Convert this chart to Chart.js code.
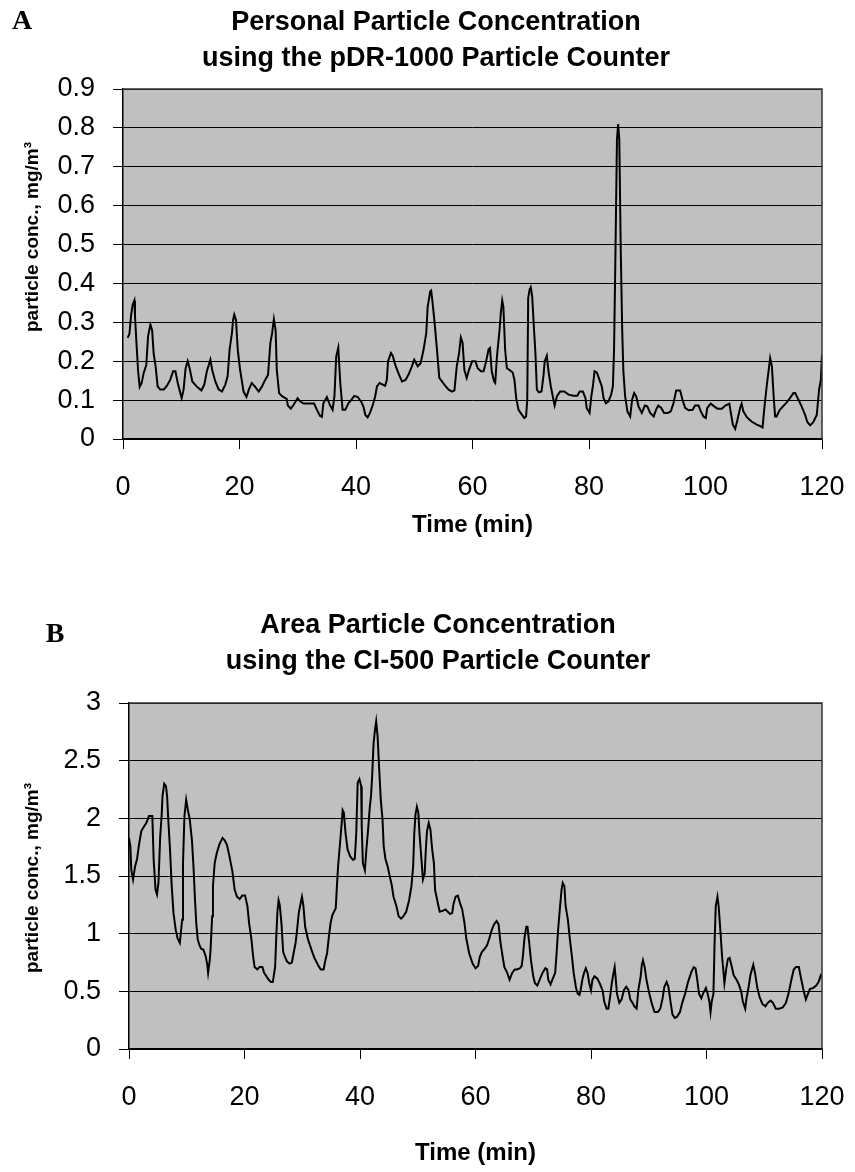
<!DOCTYPE html>
<html>
<head>
<meta charset="utf-8">
<script src="https://cdn.jsdelivr.net/npm/chart.js@4.4.1/dist/chart.umd.min.js"></script>
<style>
  body { margin: 0; background: #fff; }
  canvas { position: absolute; left: 0; }
  #chartA { top: 0; }
  #chartB { top: 590px; }
</style>
</head>
<body>
<canvas id="chartA" width="855" height="590"></canvas>
<canvas id="chartB" width="855" height="582"></canvas>
<script>
// Axes
const xTicks = [0, 20, 40, 60, 80, 100, 120];
const yTicksA = [0, 0.1, 0.2, 0.3, 0.4, 0.5, 0.6, 0.7, 0.8, 0.9];
const yTicksB = [0, 0.5, 1, 1.5, 2, 2.5, 3];

// A : pDR-1000 (temps en min, concentration en mg/m3)
const timeA = [0.8, 1.1, 1.4, 1.66, 1.95, 2.06, 2.3, 2.6, 2.86, 3.2, 3.55, 4.0, 4.3, 4.7, 5.0, 5.26, 5.6, 5.95, 6.4, 7.0,
  7.55, 8.1, 8.6, 9.0, 9.4, 9.84, 10.07, 10.4, 10.75, 11.1, 11.44, 11.9, 12.7, 13.45, 13.96, 14.4, 15.0, 15.33, 15.85, 16.4,
  17.0, 17.56, 17.96, 18.3, 18.7, 18.9, 19.1, 19.4, 19.7, 20.1, 20.7, 21.2, 21.6, 22.1, 22.7, 23.3, 23.86, 24.4, 24.9, 25.3,
  25.6, 25.9, 26.2, 26.4, 26.8, 27.3, 27.86, 28.1, 28.3, 28.8, 29.3, 29.98, 30.4, 31.0, 31.9, 32.8, 33.3, 33.8, 34.15, 34.4,
  35.0, 35.5, 35.98, 36.3, 36.6, 36.96, 37.3, 37.7, 38.16, 38.7, 39.1, 39.7, 40.3, 40.96, 41.3, 41.6, 42.0, 42.4, 42.9, 43.3,
  43.6, 44.05, 44.6, 45.0, 45.3, 45.5, 46.0, 46.3, 46.8, 47.4, 47.9, 48.5, 49.0, 49.6, 50.0, 50.6, 51.1, 51.6, 52.06, 52.3,
  52.75, 52.9, 53.15, 53.5, 53.9, 54.3, 54.75, 55.3, 55.9, 56.5, 56.9, 57.3, 57.7, 58.0, 58.3, 58.6, 59.0, 59.4, 59.95, 60.5,
  60.9, 61.45, 61.9, 62.35, 62.75, 63.0, 63.3, 63.7, 63.9, 64.2, 64.64, 64.86, 65.1, 65.3, 65.6, 65.9, 66.3, 66.9, 67.2, 67.5,
  67.9, 68.5, 68.9, 69.2, 69.4, 69.56, 69.8, 70.0, 70.25, 70.6, 70.8, 71.05, 71.4, 71.85, 72.2, 72.4, 72.76, 73.05, 73.45, 73.9,
  74.1, 74.5, 75.05, 75.75, 76.5, 77.3, 78.0, 78.4, 78.95, 79.4, 79.6, 80.1, 80.4, 80.66, 80.95, 81.35, 81.8, 82.2, 82.5, 82.9,
  83.35, 83.8, 84.1, 84.3, 84.55, 84.8, 85.0, 85.2, 85.45, 85.7, 85.9, 86.2, 86.6, 87.07, 87.4, 87.75, 88.1, 88.5, 89.06, 89.6,
  90.0, 90.5, 91.1, 91.5, 91.9, 92.4, 92.9, 93.5, 94.05, 94.5, 94.97, 95.65, 96.05, 96.5, 97.1, 97.8, 98.2, 98.8, 99.2, 99.65,
  100.05, 100.3, 100.9, 101.5, 102.05, 102.8, 103.4, 104.1, 104.35, 104.7, 105.1, 105.5, 105.95, 106.2, 106.5, 107.1, 107.9, 108.8, 109.4, 109.8,
  110.07, 110.5, 110.85, 111.1, 111.4, 111.7, 111.95, 112.2, 112.7, 113.3, 113.95, 114.5, 115.1, 115.4, 115.96, 116.5, 117.1, 117.5, 117.97, 118.5,
  119.1, 119.5, 119.8, 120, 120];
const concA = [0.26, 0.27, 0.32, 0.345, 0.356, 0.315, 0.25, 0.174, 0.134, 0.144, 0.17, 0.19, 0.264, 0.294, 0.28, 0.22, 0.187, 0.135, 0.127, 0.127,
  0.137, 0.152, 0.174, 0.174, 0.144, 0.118, 0.105, 0.127, 0.182, 0.2, 0.182, 0.148, 0.134, 0.125, 0.14, 0.174, 0.204, 0.176, 0.148, 0.128,
  0.122, 0.14, 0.161, 0.23, 0.272, 0.306, 0.32, 0.306, 0.23, 0.178, 0.122, 0.108, 0.127, 0.144, 0.134, 0.122, 0.135, 0.152, 0.165, 0.247,
  0.272, 0.308, 0.28, 0.178, 0.118, 0.11, 0.105, 0.103, 0.086, 0.078, 0.088, 0.105, 0.097, 0.091, 0.091, 0.091, 0.075, 0.06, 0.057, 0.092,
  0.108, 0.088, 0.075, 0.11, 0.212, 0.235, 0.144, 0.075, 0.075, 0.092, 0.099, 0.111, 0.108, 0.094, 0.082, 0.062, 0.056, 0.067, 0.088, 0.11,
  0.135, 0.144, 0.14, 0.137, 0.152, 0.2, 0.221, 0.214, 0.188, 0.165, 0.148, 0.152, 0.165, 0.187, 0.204, 0.187, 0.195, 0.23, 0.272, 0.34,
  0.38, 0.382, 0.35, 0.298, 0.23, 0.157, 0.148, 0.137, 0.127, 0.122, 0.125, 0.187, 0.221, 0.261, 0.247, 0.178, 0.157, 0.178, 0.2, 0.2,
  0.182, 0.174, 0.174, 0.2, 0.23, 0.234, 0.174, 0.148, 0.144, 0.212, 0.28, 0.324, 0.356, 0.34, 0.23, 0.182, 0.178, 0.171, 0.152, 0.105,
  0.075, 0.062, 0.054, 0.058, 0.1, 0.362, 0.384, 0.39, 0.366, 0.272, 0.221, 0.127, 0.12, 0.122, 0.165, 0.2, 0.214, 0.174, 0.135, 0.101,
  0.086, 0.11, 0.122, 0.122, 0.114, 0.111, 0.111, 0.122, 0.122, 0.105, 0.08, 0.067, 0.11, 0.135, 0.174, 0.171, 0.152, 0.135, 0.105, 0.092,
  0.097, 0.114, 0.135, 0.23, 0.486, 0.77, 0.81, 0.77, 0.486, 0.28, 0.174, 0.11, 0.071, 0.058, 0.101, 0.118, 0.11, 0.084, 0.067, 0.086,
  0.084, 0.067, 0.058, 0.075, 0.086, 0.08, 0.067, 0.067, 0.071, 0.092, 0.125, 0.125, 0.101, 0.08, 0.074, 0.075, 0.086, 0.086, 0.071, 0.058,
  0.054, 0.08, 0.091, 0.084, 0.078, 0.078, 0.086, 0.091, 0.067, 0.037, 0.026, 0.05, 0.08, 0.091, 0.071, 0.056, 0.045, 0.037, 0.033, 0.03,
  0.075, 0.135, 0.178, 0.208, 0.187, 0.11, 0.058, 0.058, 0.074, 0.084, 0.094, 0.105, 0.118, 0.118, 0.101, 0.084, 0.062, 0.043, 0.035, 0.043,
  0.062, 0.127, 0.152, 0.217, 0.15];

// B : CI-500
const timeB = [0, 0.23, 0.4, 0.7, 1.04, 1.4, 1.73, 2.13, 2.6, 3.0, 3.46, 3.75, 4.04, 4.27, 4.6, 4.85, 5.1, 5.4, 5.65, 5.8,
  6.1, 6.4, 6.6, 6.8, 7.1, 7.4, 7.7, 8.1, 8.4, 8.8, 9.0, 9.2, 9.35, 9.6, 9.9, 10.2, 10.5, 10.9, 11.2, 11.4,
  11.65, 11.9, 12.2, 12.5, 12.9, 13.3, 13.56, 13.7, 13.96, 14.1, 14.4, 14.54, 14.83, 15.2, 15.7, 16.2, 16.56, 16.96, 17.4, 17.9,
  18.3, 18.7, 19.16, 19.6, 20.1, 20.5, 20.8, 21.2, 21.5, 21.75, 22.2, 22.6, 23.1, 23.4, 23.8, 24.2, 24.6, 24.9, 25.3, 25.5,
  25.7, 25.9, 26.1, 26.4, 26.7, 27.0, 27.35, 27.8, 28.2, 28.5, 28.85, 29.1, 29.4, 29.7, 29.95, 30.2, 30.5, 31.0, 31.6, 32.1,
  32.7, 33.2, 33.7, 34.0, 34.3, 34.6, 34.9, 35.2, 35.5, 35.8, 36.0, 36.2, 36.5, 36.8, 37.0, 37.2, 37.5, 37.85, 38.3, 38.8,
  39.1, 39.35, 39.6, 39.9, 40.2, 40.3, 40.5, 40.85, 41.1, 41.4, 41.7, 41.9, 42.1, 42.35, 42.6, 42.8, 43.05, 43.3, 43.6, 43.9,
  44.1, 44.4, 44.8, 45.1, 45.5, 45.8, 46.3, 46.7, 47.1, 47.5, 48.0, 48.5, 48.9, 49.2, 49.4, 49.6, 49.85, 50.1, 50.3, 50.6,
  50.9, 51.2, 51.4, 51.6, 51.9, 52.2, 52.5, 52.8, 53.0, 53.5, 53.8, 54.4, 54.8, 55.2, 55.6, 55.97, 56.2, 56.55, 56.95, 57.35,
  57.7, 58.1, 58.4, 58.9, 59.5, 60.0, 60.45, 60.75, 61.1, 61.6, 62.0, 62.4, 62.8, 63.2, 63.65, 64.0, 64.3, 64.7, 65.0, 65.5,
  65.9, 66.35, 66.8, 67.2, 67.7, 68.0, 68.2, 68.5, 68.8, 69.0, 69.3, 69.6, 70.0, 70.3, 70.7, 71.1, 71.6, 72.1, 72.4, 72.6,
  73.0, 73.3, 73.8, 74.0, 74.3, 74.6, 74.9, 75.1, 75.4, 75.6, 76.0, 76.3, 76.7, 77.0, 77.4, 77.7, 78.0, 78.2, 78.5, 78.8,
  79.1, 79.4, 79.7, 80.0, 80.25, 80.6, 81.1, 81.5, 82.0, 82.3, 82.7, 83.0, 83.3, 83.6, 83.9, 84.1, 84.3, 84.5, 84.9, 85.3,
  85.7, 86.1, 86.5, 86.8, 87.2, 87.5, 87.9, 88.2, 88.6, 88.8, 89.0, 89.3, 89.6, 90.1, 90.5, 91.0, 91.6, 92.0, 92.4, 92.7,
  93.1, 93.4, 93.8, 94.1, 94.5, 94.9, 95.4, 95.8, 96.3, 96.8, 97.4, 97.8, 98.1, 98.4, 98.7, 99.1, 99.4, 99.9, 100.2, 100.5,
  100.7, 100.9, 101.2, 101.4, 101.6, 101.9, 102.1, 102.4, 102.7, 102.9, 103.1, 103.4, 103.7, 104.0, 104.3, 104.7, 105.2, 105.6, 106.0, 106.3,
  106.7, 106.9, 107.3, 107.6, 108.1, 108.4, 108.8, 109.2, 109.7, 110.2, 110.6, 111.1, 111.5, 112.0, 112.6, 113.2, 113.75, 114.2, 114.7, 115.1,
  115.5, 116.0, 116.3, 116.8, 117.2, 117.5, 117.9, 118.5, 119.0, 119.4, 119.8, 120.0];
const concB = [1.83, 1.76, 1.55, 1.47, 1.58, 1.65, 1.77, 1.89, 1.93, 1.96, 2.02, 2.02, 2.02, 1.64, 1.38, 1.34, 1.44, 1.84, 2.02, 2.19,
  2.3, 2.28, 2.19, 1.99, 1.73, 1.41, 1.18, 1.03, 0.96, 0.92, 1.02, 1.12, 1.61, 2.02, 2.16, 2.07, 2.0, 1.81, 1.55, 1.32,
  1.09, 0.95, 0.9, 0.87, 0.86, 0.8, 0.73, 0.66, 0.76, 0.84, 1.15, 1.41, 1.61, 1.7, 1.78, 1.83, 1.81, 1.77, 1.67, 1.54,
  1.38, 1.32, 1.3, 1.33, 1.33, 1.24, 1.09, 0.95, 0.8, 0.71, 0.69, 0.71, 0.71, 0.66, 0.63, 0.6, 0.58, 0.58, 0.71, 0.97,
  1.19, 1.29, 1.25, 1.09, 0.84, 0.8, 0.76, 0.74, 0.75, 0.83, 0.92, 1.03, 1.18, 1.26, 1.32, 1.24, 1.06, 0.95, 0.86, 0.79,
  0.73, 0.69, 0.69, 0.77, 0.83, 0.97, 1.09, 1.16, 1.19, 1.22, 1.41, 1.58, 1.76, 1.94, 2.07, 2.05, 1.87, 1.73, 1.67, 1.64,
  1.65, 1.87, 2.31, 2.34, 2.28, 1.93, 1.61, 1.55, 1.73, 1.9, 2.1, 2.19, 2.36, 2.65, 2.77, 2.84, 2.71, 2.45, 2.16, 1.99,
  1.76, 1.65, 1.58, 1.51, 1.42, 1.32, 1.24, 1.15, 1.13, 1.15, 1.19, 1.29, 1.41, 1.58, 1.87, 2.03, 2.1, 2.05, 1.87, 1.67,
  1.47, 1.52, 1.73, 1.89, 1.96, 1.9, 1.73, 1.61, 1.38, 1.26, 1.19, 1.2, 1.21, 1.19, 1.17, 1.18, 1.26, 1.32, 1.33, 1.26,
  1.21, 1.09, 0.96, 0.83, 0.74, 0.7, 0.72, 0.8, 0.84, 0.87, 0.9, 0.96, 1.03, 1.08, 1.11, 1.08, 0.93, 0.8, 0.71, 0.66,
  0.6, 0.66, 0.69, 0.69, 0.7, 0.72, 0.8, 0.97, 1.06, 1.06, 0.92, 0.77, 0.63, 0.57, 0.55, 0.6, 0.66, 0.7, 0.69, 0.6,
  0.56, 0.6, 0.66, 0.8, 1.03, 1.21, 1.38, 1.44, 1.41, 1.24, 1.12, 0.97, 0.8, 0.66, 0.53, 0.48, 0.47, 0.51, 0.6, 0.66,
  0.7, 0.66, 0.57, 0.51, 0.6, 0.63, 0.61, 0.57, 0.51, 0.41, 0.35, 0.35, 0.45, 0.57, 0.66, 0.71, 0.6, 0.48, 0.4, 0.43,
  0.51, 0.54, 0.51, 0.43, 0.4, 0.37, 0.35, 0.51, 0.63, 0.73, 0.77, 0.71, 0.6, 0.48, 0.4, 0.32, 0.32, 0.35, 0.44, 0.54,
  0.58, 0.54, 0.4, 0.3, 0.27, 0.28, 0.32, 0.4, 0.48, 0.58, 0.67, 0.71, 0.7, 0.6, 0.48, 0.44, 0.48, 0.53, 0.48, 0.41,
  0.32, 0.41, 0.48, 0.92, 1.24, 1.32, 1.24, 1.03, 0.8, 0.69, 0.57, 0.69, 0.78, 0.79, 0.73, 0.64, 0.6, 0.56, 0.5, 0.41,
  0.35, 0.43, 0.54, 0.64, 0.73, 0.66, 0.53, 0.45, 0.39, 0.37, 0.4, 0.42, 0.4, 0.35, 0.35, 0.36, 0.4, 0.48, 0.6, 0.69,
  0.71, 0.71, 0.63, 0.51, 0.43, 0.47, 0.52, 0.53, 0.55, 0.58, 0.64, 0.63];

const SANS = "'Liberation Sans', Arial, sans-serif";
const SERIF = "'Liberation Serif', 'Times New Roman', serif";

// Fond gris, cadre, titres et lettre du panneau
const plotFrame = {
  id: 'plotFrame',
  beforeDraw(chart) {
    const { ctx, chartArea: a } = chart;
    ctx.save();
    ctx.fillStyle = '#c0c0c0';
    ctx.fillRect(a.left, a.top, a.width, a.height);
    ctx.restore();
  },
  afterDraw(chart, args, opts) {
    const { ctx, chartArea: a } = chart;
    ctx.save();
    ctx.strokeStyle = '#333';
    ctx.lineWidth = 1.5;
    ctx.beginPath();
    ctx.moveTo(a.left, a.top);
    ctx.lineTo(a.right, a.top);
    ctx.lineTo(a.right, a.bottom);
    ctx.stroke();

    ctx.fillStyle = '#000';
    ctx.textBaseline = 'middle';
    ctx.textAlign = 'center';
    ctx.font = 'bold 28px ' + SERIF;
    ctx.fillText(opts.letter, opts.letterX, opts.letterY);

    ctx.font = 'bold 27px ' + SANS;
    opts.title.forEach((line, i) => ctx.fillText(line, opts.titleX, opts.titleY[i]));

    ctx.translate(opts.yTitleX, opts.yTitleY);
    ctx.rotate(-Math.PI / 2);
    ctx.font = 'bold 19px ' + SANS;
    ctx.fillText('particle conc., mg/m³', 0, 0);
    ctx.restore();
  }
};

function makeChart(id, times, values, yTicks, yMax, frame, sizes) {
  const points = times.map((t, i) => ({ x: t, y: values[i] }));
  return new Chart(document.getElementById(id), {
    type: 'line',
    data: {
      datasets: [{
        data: points,
        borderColor: '#000',
        borderWidth: 2,
        pointRadius: 0,
        tension: 0,
        fill: false
      }]
    },
    plugins: [plotFrame],
    options: {
      responsive: false,
      animation: false,
      events: [],
      layout: { padding: { top: sizes.top, right: 33, left: 0, bottom: 0 } },
      plugins: {
        legend: { display: false },
        tooltip: { enabled: false },
        plotFrame: frame
      },
      scales: {
        x: {
          type: 'linear',
          min: 0,
          max: 120,
          afterBuildTicks: s => { s.ticks = xTicks.map(v => ({ value: v })); },
          afterFit: s => {
            s.height = sizes.xHeight;
            // le dernier libellé "120" déborde dans la marge, comme sur l'original
            s.paddingLeft = 0;
            s.paddingRight = 0;
          },
          grid: { drawOnChartArea: false, drawTicks: true, tickLength: 10, color: '#000', lineWidth: 1 },
          border: { color: '#000', width: 1.5 },
          ticks: { color: '#000', font: { family: SANS, size: 27 }, padding: 22, maxRotation: 0, autoSkip: false },
          title: {
            display: true,
            text: 'Time (min)',
            color: '#000',
            font: { family: SANS, size: 24, weight: 'bold' },
            padding: { top: 0, bottom: sizes.titlePad }
          }
        },
        y: {
          min: 0,
          max: yMax,
          afterBuildTicks: s => { s.ticks = yTicks.map(v => ({ value: v })); },
          afterFit: s => { s.width = sizes.yWidth; },
          grid: { color: '#000', lineWidth: 1, drawTicks: true, tickLength: 10 },
          border: { color: '#000', width: 1.5 },
          ticks: { color: '#000', font: { family: SANS, size: 27 }, padding: 18, callback: v => String(v) }
        }
      }
    }
  });
}

makeChart('chartA', timeA, concA, yTicksA, 0.9,
  { letter: 'A', letterX: 22, letterY: 22, title: ['Personal Particle Concentration', 'using the pDR-1000 Particle Counter'],
    titleX: 436, titleY: [23, 59], yTitleX: 33, yTitleY: 237 },
  { top: 89, xHeight: 151, titlePad: 50, yWidth: 123 });

makeChart('chartB', timeB, concB, yTicksB, 3,
  { letter: 'B', letterX: 55, letterY: 45, title: ['Area Particle Concentration', 'using the CI-500 Particle Counter'],
    titleX: 438, titleY: [36, 72], yTitleX: 33, yTitleY: 288 },
  { top: 113, xHeight: 123, titlePad: 4, yWidth: 129 });
</script>
</body>
</html>
